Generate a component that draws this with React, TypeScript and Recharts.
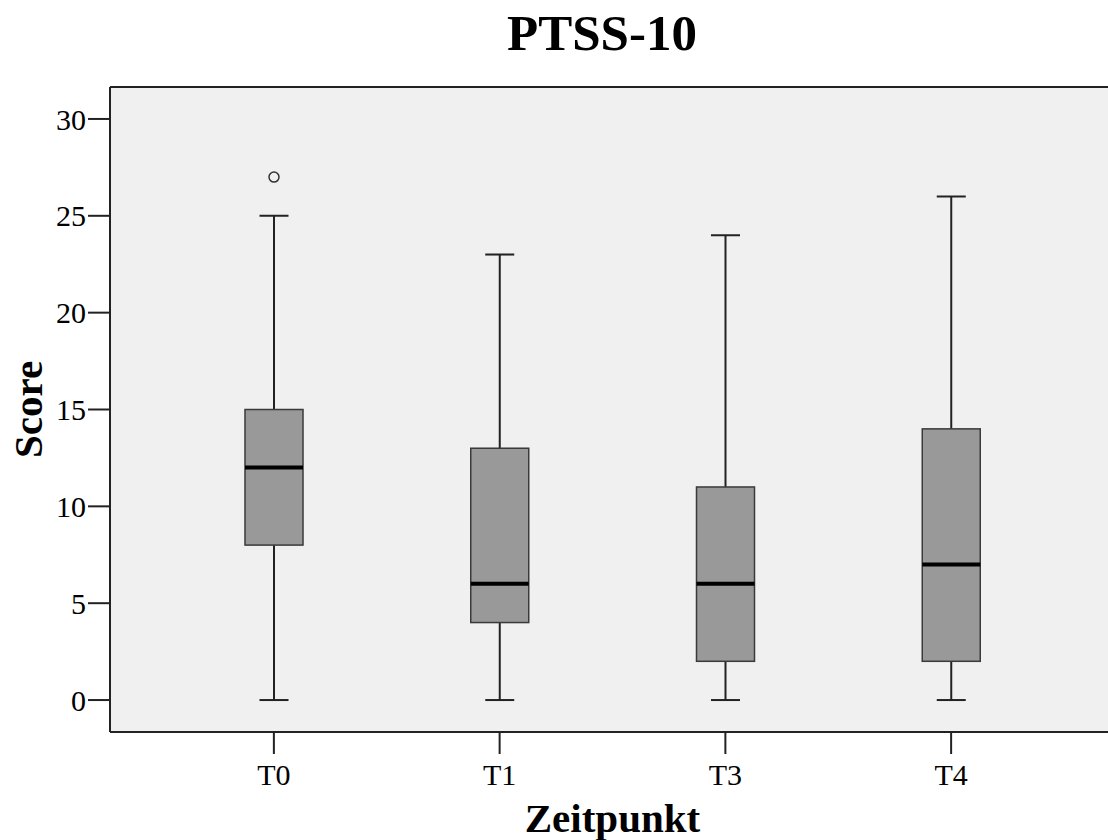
import { Bar, CartesianGrid, ComposedChart, ReferenceLine, XAxis, YAxis } from 'recharts';

const categories = ['T0', 'T1', 'T3', 'T4'];
const minimum = [0, 0, 0, 0];
const lowerQuartile = [8, 4, 2, 2];
const median = [12, 6, 6, 7];
const upperQuartile = [15, 13, 11, 14];
const maximum = [25, 23, 24, 26];
const outliers: number[][] = [[27], [], [], []];
const yTicks = [0, 5, 10, 15, 20, 25, 30];

const Y_MIN = -1.65;
const Y_MAX = 31.65;
const FONT = '"Liberation Serif", "Times New Roman", serif';
const INK = '#222';

const data = categories.map((name, i) => ({
  name,
  range: [minimum[i], maximum[i]],
  q1: lowerQuartile[i],
  med: median[i],
  q3: upperQuartile[i],
  out: outliers[i],
}));

// The bar spans min..max; everything else is placed on the same linear scale.
function BoxShape(props: any) {
  const { x, y, width, height, payload } = props;
  const top = Math.min(y, y + height);
  const bot = Math.max(y, y + height);
  const [lo, hi] = payload.range;
  const py = (v: number) => bot + ((top - bot) * (v - lo)) / (hi - lo);
  const cx = x + width / 2;
  const cap = width / 4;
  return (
    <g>
      <line x1={cx} x2={cx} y1={py(hi)} y2={py(lo)} stroke={INK} strokeWidth={2} />
      <line x1={cx - cap} x2={cx + cap} y1={py(hi)} y2={py(hi)} stroke={INK} strokeWidth={2} />
      <line x1={cx - cap} x2={cx + cap} y1={py(lo)} y2={py(lo)} stroke={INK} strokeWidth={2} />
      <rect
        x={x}
        y={py(payload.q3)}
        width={width}
        height={py(payload.q1) - py(payload.q3)}
        fill="#999999"
        stroke="#3a3a3a"
        strokeWidth={1.5}
      />
      <line x1={x} x2={x + width} y1={py(payload.med)} y2={py(payload.med)} stroke="#000" strokeWidth={4} />
      {payload.out.map((v: number, k: number) => (
        <circle key={k} cx={cx} cy={py(v)} r={5} fill="none" stroke="#333" strokeWidth={1.5} />
      ))}
    </g>
  );
}

export default function App() {
  return (
    <div
      style={{
        position: 'fixed',
        left: 0,
        top: 0,
        width: 1108,
        height: 840,
        overflow: 'hidden',
        background: '#fff',
      }}
    >
      <ComposedChart
        width={1120}
        height={840}
        data={data}
        margin={{ top: 87, right: 5, bottom: 48, left: 0 }}
      >
        <CartesianGrid fill="#f0f0f0" horizontal={false} vertical={false} />
        <XAxis
          dataKey="name"
          height={60}
          padding={{ left: 51, right: 51 }}
          tickSize={22}
          tickMargin={10}
          tick={{ fill: '#000', fontSize: 30, fontFamily: FONT }}
          axisLine={{ stroke: INK, strokeWidth: 2 }}
          tickLine={{ stroke: INK, strokeWidth: 2 }}
          label={{
            content: (p: any) => (
              <text
                x={p.viewBox.x + p.viewBox.width / 2}
                y={p.viewBox.y + 100}
                textAnchor="middle"
                fontFamily={FONT}
                fontWeight="bold"
                fontSize={41}
                fill="#000"
              >
                Zeitpunkt
              </text>
            ),
          }}
        />
        <YAxis
          width={110}
          domain={[Y_MIN, Y_MAX]}
          ticks={yTicks}
          allowDataOverflow
          tickSize={22}
          tick={{ fill: '#000', fontSize: 30, fontFamily: FONT }}
          axisLine={{ stroke: INK, strokeWidth: 2 }}
          tickLine={{ stroke: INK, strokeWidth: 2 }}
          label={{
            content: (p: any) => {
              const cx = p.viewBox.x + 28;
              const cy = p.viewBox.y + p.viewBox.height / 2;
              return (
                <text
                  x={cx}
                  y={cy}
                  transform={`rotate(-90 ${cx} ${cy})`}
                  textAnchor="middle"
                  dominantBaseline="central"
                  fontFamily={FONT}
                  fontWeight="bold"
                  fontSize={41}
                  fill="#000"
                >
                  Score
                </text>
              );
            },
          }}
        />
        <ReferenceLine y={Y_MAX} stroke={INK} strokeWidth={2} ifOverflow="visible" />
        <Bar dataKey="range" barSize={58} shape={BoxShape} isAnimationActive={false} />
      </ComposedChart>
      <svg
        width={1108}
        height={80}
        style={{ position: 'absolute', left: 0, top: 0, pointerEvents: 'none' }}
      >
        <text x={602} y={50} textAnchor="middle" fontFamily={FONT} fontWeight="bold" fontSize={51} fill="#000">
          PTSS-10
        </text>
      </svg>
    </div>
  );
}
